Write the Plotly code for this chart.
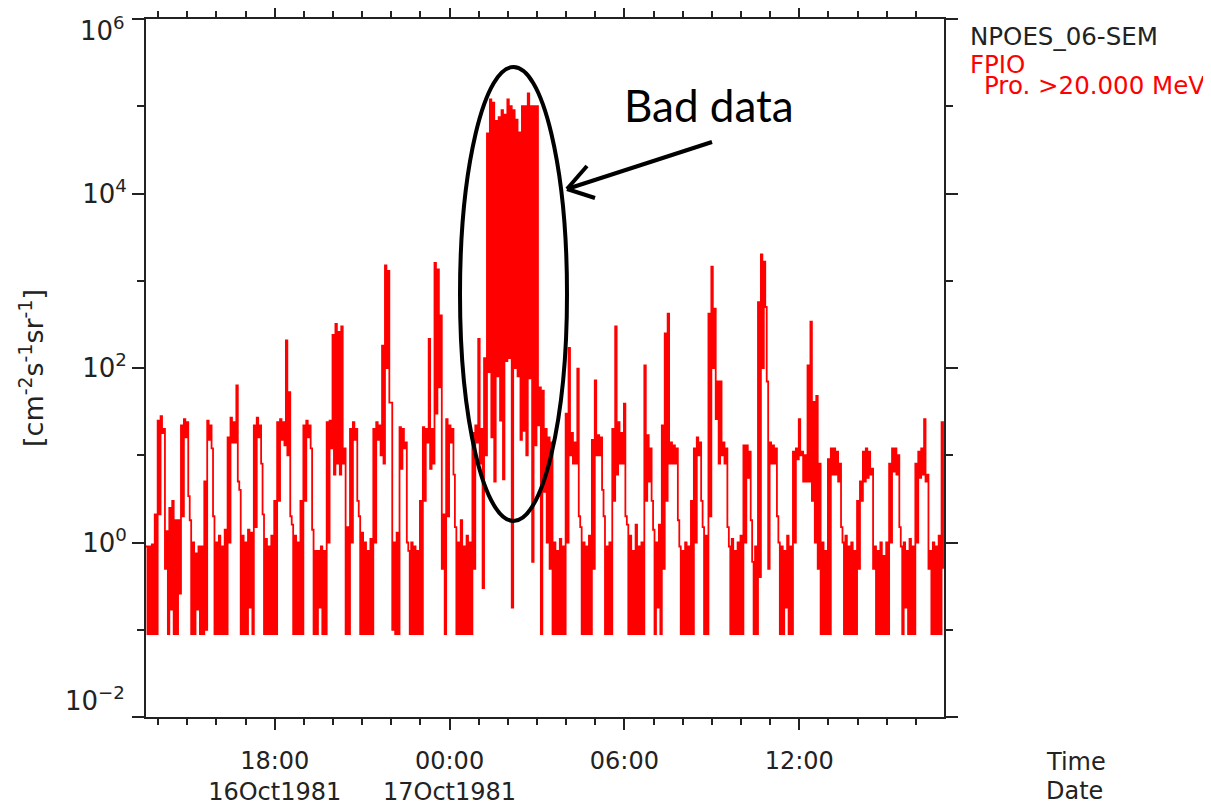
import pandas as pd
import plotly.graph_objects as go

# ---------------- data ----------------
start_time = "1981-10-16 13:35"
step_minutes = 6

# per 6-minute bin: upper and lower envelope of the >20 MeV proton flux
flux_hi = [
    0.9, 0.9, 0.95, 2.1, 25, 28, 20, 1.35, 2.5, 3.0,
    1.8, 1.8, 22, 26, 24, 1.8, 1.0, 0.75, 0.9, 0.9,
    5, 25, 22, 2, 1.0, 1.2, 0.9, 1.4, 16, 27,
    24, 63, 4, 1.2, 1.0, 1.4, 1.3, 22, 27, 22,
    2.1, 1.1, 0.9, 1.2, 3, 24, 26, 24, 207, 53,
    1.6, 1.2, 1.0, 3, 22, 25, 22, 1.4, 0.8, 0.8,
    0.9, 0.8, 24, 25, 240, 320, 260, 300, 12, 1.5,
    20, 24, 20, 2, 1.3, 1.0, 0.8, 1.1, 20, 24,
    22, 180, 1500, 1300, 40, 1.0, 1.3, 21, 20, 14,
    0.8, 1.0, 0.9, 0.8, 3, 21, 20, 215, 20, 1600,
    1350, 400, 2.1, 26, 22, 20, 1.5, 1.0, 1.8, 0.9,
    1.2, 1.0, 18, 22, 215, 20, 130, 4.9e4, 1.2e5, 1.1e5,
    6.8e4, 7.5e4, 9e4, 8e4, 1.2e5, 1.0e5, 9e4, 7e4, 5e4, 1e5,
    1e5, 1.4e5, 1e5, 1e5, 1e5, 60, 55, 20, 16, 14,
    1.0, 0.8, 1.1, 0.9, 30, 170, 18, 14, 98, 1.5,
    1.0, 0.9, 1.2, 15, 72, 17, 16, 2, 0.9, 1.0,
    20, 300, 24, 18, 39, 1.6, 1.2, 0.8, 1.6, 0.9,
    1.0, 107, 17, 12, 1.4, 1.0, 1.6, 22, 250, 420,
    14, 13, 12, 0.9, 0.8, 1.0, 0.9, 3, 12, 16,
    14, 1.5, 1.2, 420, 1450, 480, 70, 70, 14, 12,
    0.9, 1.1, 0.8, 1.0, 1.2, 13, 13, 11, 0.6, 0.9,
    570, 2000, 1650, 70, 14, 13, 12, 1.0, 0.9, 0.8,
    1.2, 0.9, 11, 12, 26, 11, 10, 107, 340, 41,
    48, 8, 1.0, 0.8, 9, 12, 12, 11, 8, 1.0,
    1.2, 0.9, 1.0, 0.8, 3, 5, 11, 12, 11, 7,
    0.9, 0.8, 1.0, 0.7, 1.0, 8, 12, 12, 10, 0.9,
    1.0, 0.8, 1.1, 0.9, 8, 11, 12, 26, 6, 0.8,
    1.0, 0.9, 1.2, 24,
]
flux_lo = [
    0.089, 0.089, 0.089, 0.089, 2.1, 18, 0.5, 0.089, 0.17, 0.089,
    0.089, 0.26, 2, 16, 3.4, 0.089, 0.089, 0.17, 0.089, 0.089,
    0.1, 15, 12, 0.089, 0.089, 0.089, 0.089, 0.089, 1, 14,
    14, 5, 0.089, 0.089, 0.089, 0.18, 0.089, 1.5, 16, 8,
    0.089, 0.089, 0.089, 0.089, 0.089, 3, 15, 13, 10, 2,
    0.089, 0.089, 0.089, 0.089, 3, 16, 12, 0.089, 0.089, 0.18,
    0.089, 0.089, 1, 12, 6, 8, 6, 8, 0.089, 0.089,
    1, 15, 3, 0.089, 0.089, 0.089, 0.089, 0.089, 1, 15,
    10, 8, 100, 40, 0.1, 0.089, 0.089, 7, 12, 1,
    0.089, 0.089, 0.089, 0.089, 0.089, 3, 14, 7, 8, 30,
    60, 0.5, 0.089, 2, 14, 6, 0.089, 0.089, 0.089, 0.089,
    0.089, 0.089, 0.5, 14, 8, 0.3, 10, 90, 16, 5,
    80, 25, 5.3, 120, 130, 0.18, 100, 80, 15, 19,
    10, 76, 0.6, 13, 22, 0.089, 3.8, 1, 0.5, 0.089,
    0.089, 0.089, 0.089, 0.089, 1, 10, 8, 8, 2, 0.089,
    0.089, 0.089, 0.089, 0.5, 10, 10, 4, 0.089, 0.089, 0.089,
    3, 6, 8, 8, 2, 0.089, 0.089, 0.089, 0.089, 0.089,
    0.089, 3, 5, 3, 0.089, 0.18, 0.089, 0.5, 3, 8,
    8, 8, 1.8, 0.089, 0.089, 0.089, 0.089, 0.089, 1, 10,
    3, 0.089, 0.089, 2, 100, 26, 8, 10, 8, 1.5,
    0.089, 0.089, 0.089, 0.089, 0.089, 1, 5.5, 1.8, 0.089, 0.089,
    0.4, 100, 500, 0.5, 8, 8, 2, 0.089, 0.089, 0.18,
    0.089, 0.089, 1, 9, 10, 5, 5, 5, 3, 1,
    0.5, 0.089, 0.089, 0.089, 0.089, 6, 6, 5, 1.5, 0.089,
    0.089, 0.089, 0.089, 0.089, 0.5, 3, 5, 5.5, 6, 0.5,
    0.089, 0.089, 0.089, 0.089, 0.089, 1, 6.5, 6, 1.5, 0.089,
    0.18, 0.089, 0.089, 0.089, 1, 5.5, 6, 5, 0.5, 0.089,
    0.089, 0.089, 0.089, 0.5,
]

x_range = ["1981-10-16 13:35", "1981-10-17 16:58"]
x_tickvals = ["1981-10-16 18:00", "1981-10-17 00:00", "1981-10-17 06:00", "1981-10-17 12:00"]
x_ticktext = ["18:00<br>16Oct1981", "00:00<br>17Oct1981", "06:00", "12:00"]
y_tickvals = [1e-2, 1e0, 1e2, 1e4, 1e6]
# end labels (10^-2 and 10^6) are drawn nudged inside the axis, as in the original
y_ticktext = ["", "10<sup>0</sup>", "10<sup>2</sup>", "10<sup>4</sup>", ""]
y_end_labels = ["10<sup>\u22122</sup>", "10<sup>6</sup>"]
y_minorvals = [1e-1, 1e1, 1e3, 1e5]

# ---------------- build trace ----------------
t0 = pd.Timestamp(start_time)
xs, ys = [], []
for i, (h, l) in enumerate(zip(flux_hi, flux_lo)):
    t = t0 + pd.Timedelta(minutes=step_minutes * i)
    xs += [t, t + pd.Timedelta(minutes=step_minutes / 2)]
    ys += [h, l]

fig = go.Figure()
fig.add_trace(go.Scatter(x=xs, y=ys, mode="lines",
                         line=dict(color="#ff0000", width=1.8, shape="hv"),
                         hoverinfo="skip"))

W, H = 1211, 805
BODY = 8  # default page margin of the html body
# plot area in page pixels
PL, PT, PR, PB = 146, 19, 944, 717
PW, PH = PR - PL, PB - PT
L, T = PL - BODY, PT - BODY
R, B = W - L - PW, H - T - PH


def px(x):
    return (x - PL) / PW


def py(y):
    return 1 - (y - PT) / PH


axcol = "#222222"

fig.update_layout(
    width=W, height=H,
    margin=dict(l=L, r=R, t=T, b=B, pad=0),
    paper_bgcolor="white", plot_bgcolor="white",
    showlegend=False,
    xaxis=dict(
        type="date", range=x_range, automargin=False,
        tickmode="array", tickvals=x_tickvals, ticktext=x_ticktext,
        ticks="outside", ticklen=11, tickwidth=1.5, tickcolor=axcol,
        showline=True, linecolor=axcol, linewidth=2, mirror="allticks",
        showgrid=False, zeroline=False, ticklabeloverflow="allow",
        tickfont=dict(family="DejaVu Sans", size=24, color=axcol),
        ticklabelstandoff=10,
        minor=dict(dtick=3600000, tick0="1981-10-16 00:00", ticks="outside",
                   ticklen=6, tickwidth=1.5, tickcolor=axcol, showgrid=False),
    ),
    yaxis=dict(
        type="log", range=[-2, 6], automargin=False,
        tickmode="array", tickvals=y_tickvals, ticktext=y_ticktext,
        ticks="outside", ticklen=12, tickwidth=1.5, tickcolor=axcol,
        showline=True, linecolor=axcol, linewidth=2, mirror="allticks",
        showgrid=False, zeroline=False, ticklabeloverflow="allow",
        tickfont=dict(family="DejaVu Sans", size=26, color=axcol),
        ticklabelstandoff=0,
        minor=dict(tickvals=y_minorvals, ticks="outside", ticklen=7,
                   tickwidth=1.5, tickcolor=axcol, showgrid=False),
    ),
)

ytick_font = dict(family="DejaVu Sans", size=26, color=axcol)
ann = []
ann.append(dict(text=y_end_labels[1], x=px(126), y=py(29), xref="paper", yref="paper",
                showarrow=False, xanchor="right", yanchor="middle", borderpad=0,
                font=ytick_font))
ann.append(dict(text=y_end_labels[0], x=px(126), y=py(699), xref="paper", yref="paper",
                showarrow=False, xanchor="right", yanchor="middle", borderpad=0,
                font=ytick_font))
ann.append(dict(text="[cm<sup>-2</sup>s<sup>-1</sup>sr<sup>-1</sup>]", textangle=-90,
                x=px(31), y=0.5, xref="paper", yref="paper", showarrow=False,
                xanchor="center", yanchor="middle",
                font=dict(family="DejaVu Sans", size=27, color=axcol)))
ann.append(dict(text="NPOES_06-SEM", x=px(969), y=py(21), xref="paper", yref="paper",
                showarrow=False, xanchor="left", yanchor="top", borderpad=0,
                font=dict(family="DejaVu Sans", size=24.5, color=axcol)))
ann.append(dict(text="FPIO", x=px(969), y=py(49), xref="paper", yref="paper",
                showarrow=False, xanchor="left", yanchor="top", borderpad=0,
                font=dict(family="DejaVu Sans", size=24.5, color="#ff0000")))
ann.append(dict(text="Pro. >20.000 MeV", x=px(983), y=py(70), xref="paper", yref="paper",
                showarrow=False, xanchor="left", yanchor="top", borderpad=0,
                font=dict(family="DejaVu Sans", size=24.5, color="#ff0000")))
ann.append(dict(text="Time", x=px(1045), y=py(747), xref="paper", yref="paper",
                showarrow=False, xanchor="left", yanchor="top", borderpad=0,
                font=dict(family="DejaVu Sans", size=24, color=axcol)))
ann.append(dict(text="Date", x=px(1045), y=py(776), xref="paper", yref="paper",
                showarrow=False, xanchor="left", yanchor="top", borderpad=0,
                font=dict(family="DejaVu Sans", size=24, color=axcol)))
ann.append(dict(text="Bad data", x=px(709), y=py(105), xref="paper", yref="paper",
                showarrow=False, xanchor="center", yanchor="middle",
                font=dict(family="Lato", size=44, color="black")))

shapes = []
shapes.append(dict(type="circle", xref="paper", yref="paper",
                   x0=px(460), x1=px(567), y0=py(521), y1=py(67),
                   line=dict(color="black", width=4)))
# arrow pointing at the ellipse
tail = (712, 142)
tip = (567, 189)
shapes.append(dict(type="line", xref="paper", yref="paper",
                   x0=px(tail[0]), y0=py(tail[1]), x1=px(tip[0]), y1=py(tip[1]),
                   line=dict(color="black", width=4)))
for wing in [(595, 198), (587, 166)]:
    shapes.append(dict(type="line", xref="paper", yref="paper",
                       x0=px(tip[0]), y0=py(tip[1]), x1=px(wing[0]), y1=py(wing[1]),
                       line=dict(color="black", width=4)))

fig.update_layout(annotations=ann, shapes=shapes)
fig.write_html("out.html")
